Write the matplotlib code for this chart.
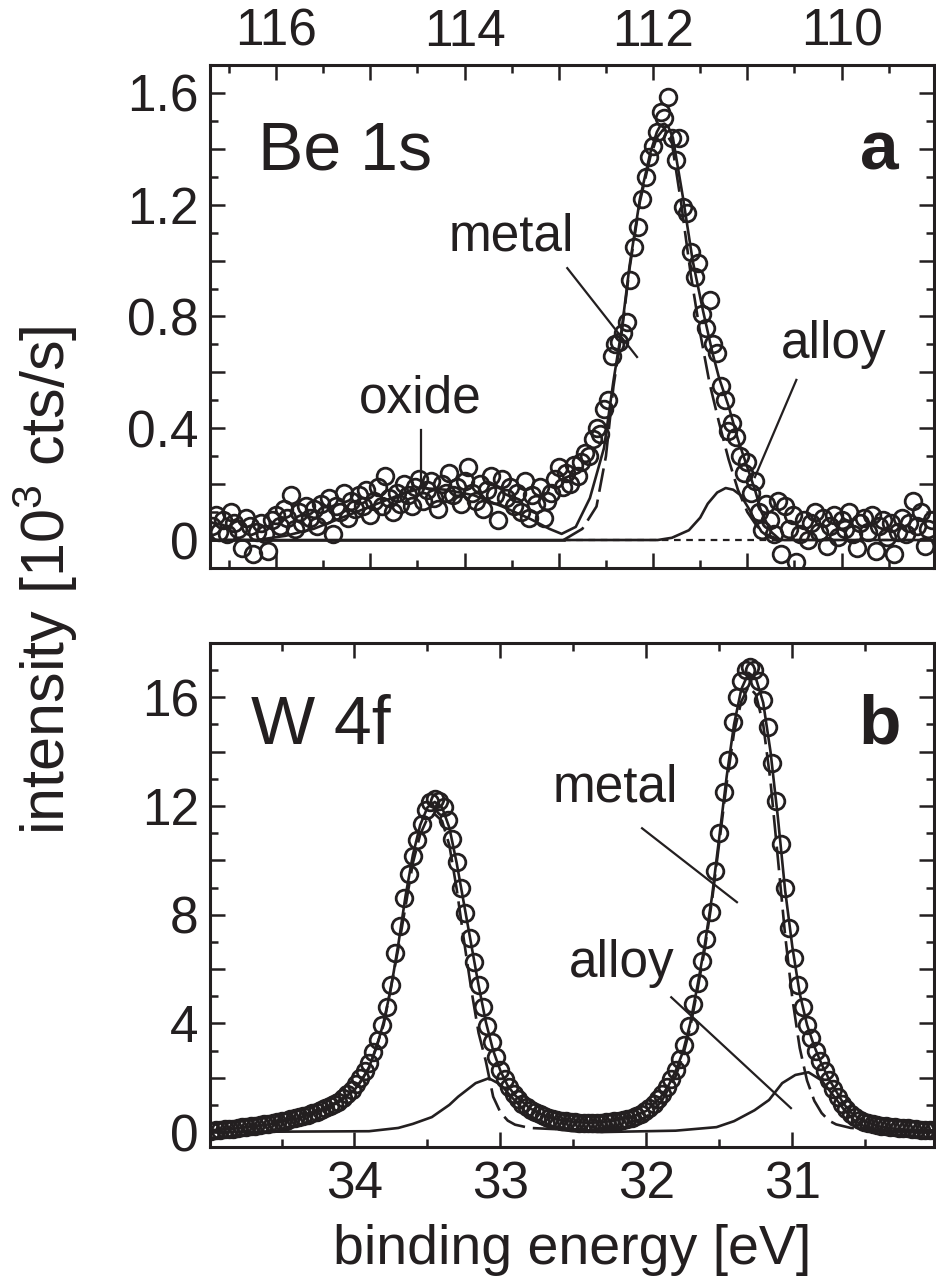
import numpy as np
import matplotlib
matplotlib.use("Agg")
import matplotlib.pyplot as plt
from matplotlib.ticker import MultipleLocator, FuncFormatter

plt.rcParams['font.family'] = ['Liberation Sans', 'DejaVu Sans']
plt.rcParams['mathtext.fontset'] = 'custom'
plt.rcParams['mathtext.rm'] = 'Liberation Sans'
plt.rcParams['mathtext.it'] = 'Liberation Sans'
plt.rcParams['mathtext.default'] = 'regular'

INK = '#231f20'

# ---------------- Panel a: Be 1s (measured points, 0.04 eV grid) ----------------
be_start, be_step = 116.68, 0.04
be_y = [0.05, 0.09, 0.03, 0.07, 0.02, 0.10, 0.06, 0.04, -0.03, 0.08, 0.05, -0.05, 0.03,
        0.06, 0.02, -0.04, 0.07, 0.09, 0.05, 0.11, 0.08, 0.16, 0.04, 0.10, 0.06, 0.12,
        0.08, 0.11, 0.05, 0.13, 0.09, 0.15, 0.02, 0.12, 0.10, 0.17, 0.08, 0.14, 0.11,
        0.16, 0.12, 0.18, 0.09, 0.14, 0.19, 0.12, 0.23, 0.15, 0.10, 0.17, 0.13, 0.20,
        0.16, 0.12, 0.19, 0.22, 0.14, 0.18, 0.21, 0.15, 0.11, 0.20, 0.17, 0.24, 0.16,
        0.19, 0.13, 0.21, 0.26, 0.17, 0.14, 0.20, 0.11, 0.18, 0.23, 0.16, 0.07, 0.22,
        0.15, 0.19, 0.12, 0.17, 0.10, 0.21, 0.08, 0.16, 0.13, 0.19, 0.08, 0.14, 0.17,
        0.22, 0.26, 0.19, 0.24, 0.20, 0.27,
        0.23, 0.28, 0.31, 0.30, 0.36, 0.40, 0.38,
        0.47, 0.50, 0.66, 0.70, 0.71, 0.74, 0.78,
        0.93, 1.05, 1.12, 1.22, 1.30, 1.37, 1.41, 1.46, 1.53, 1.51,
        1.585, 1.44, 1.36, 1.44, 1.19, 1.17, 1.03, 0.94, 0.99, 0.81,
        0.76, 0.86, 0.70, 0.67, 0.55, 0.50, 0.39, 0.42, 0.37, 0.30,
        0.24, 0.28, 0.17, 0.21, 0.10, 0.035, 0.13, 0.07, 0.02, 0.14,
        -0.05, 0.12, 0.04, 0.09, -0.08, 0.02, 0.07, 0.00, 0.06, 0.10, 0.03, 0.08, -0.02,
        0.05, 0.09, 0.01, 0.07, 0.04, 0.10, 0.02, -0.03, 0.06, 0.08, 0.03, 0.09, -0.04,
        0.05, 0.07, 0.01, 0.06, -0.05, 0.03, 0.08, 0.02, 0.06, 0.14, 0.05, 0.10, -0.02,
        0.04, 0.07]
be_x = be_start - be_step * np.arange(len(be_y))

# fit curves, panel a
be_fit_x = [116.70, 116.20, 115.90, 115.60, 115.30, 115.00, 114.70, 114.46, 114.20, 113.90,
            113.60, 113.30, 113.10, 112.97, 112.82, 112.67, 112.52, 112.42, 112.33, 112.25,
            112.14, 112.03, 111.96, 111.92, 111.88, 111.84, 111.79, 111.68, 111.58, 111.47,
            111.37, 111.30, 111.20, 111.10, 111.00, 110.92, 110.85, 110.75, 110.65, 109.00]
be_total = [0.0, 0.0, 0.015, 0.04, 0.08, 0.12, 0.16, 0.186, 0.18, 0.16,
            0.12, 0.075, 0.04, 0.022, 0.047, 0.15, 0.33, 0.57, 0.76, 0.98,
            1.22, 1.385, 1.46, 1.485, 1.49, 1.48, 1.44, 1.22, 1.00, 0.82,
            0.67, 0.58, 0.48, 0.36, 0.26, 0.18, 0.10, 0.03, 0.0, 0.0]

be_metal_x = [112.95, 112.90, 112.75, 112.60, 112.50, 112.42, 112.33, 112.25, 112.14,
              112.03, 111.96, 111.89, 111.80, 111.70, 111.60, 111.50, 111.40, 111.30, 111.20,
              111.10, 111.00, 110.90, 110.80, 110.65]
be_metal = [0.0, 0.01, 0.04, 0.12, 0.30, 0.55, 0.75, 0.97, 1.21,
            1.37, 1.44, 1.47, 1.42, 1.20, 0.95, 0.74, 0.56, 0.42, 0.29,
            0.18, 0.10, 0.05, 0.02, 0.0]

be_alloy_x = [116.70, 111.95, 111.80, 111.62, 111.50, 111.42, 111.32, 111.23, 111.15, 111.07,
              110.98, 110.92, 110.85, 110.77, 110.65]
be_alloy = [0.0, 0.0, 0.008, 0.035, 0.08, 0.13, 0.17, 0.186, 0.18, 0.16,
            0.11, 0.07, 0.03, 0.01, 0.0]

be_base_solid_x = [116.70, 112.95]
be_bg_x = [112.95, 109.00]
be_bg = [0.0, 0.0]

# ---------------- Panel b: W 4f (measured points, 0.03 eV grid) ----------------
w_start, w_step = 34.98, 0.03
w_y = [0.05, 0.08, 0.06, 0.10, 0.12, 0.10, 0.15, 0.17, 0.20, 0.22,
       0.21, 0.26, 0.28, 0.30, 0.33, 0.36, 0.40, 0.42, 0.47, 0.50,
       0.55, 0.60, 0.64, 0.70, 0.75, 0.82, 0.88, 0.95, 1.02, 1.12,
       1.25, 1.40, 1.55, 1.75, 1.98, 2.25, 2.55, 2.95, 3.40, 3.95,
       4.60, 5.40, 6.60, 7.60, 8.60, 9.50, 10.15, 10.75, 11.35, 11.85,
       12.15, 12.25, 12.20, 11.95, 11.50, 10.80, 9.95, 9.00, 8.05, 7.15,
       6.25, 5.40, 4.60, 3.90, 3.30, 2.75, 2.30, 1.95, 1.65, 1.40,
       1.20, 1.05, 0.92, 0.82, 0.72, 0.65, 0.58, 0.52, 0.48, 0.45,
       0.42, 0.40, 0.38, 0.36, 0.35, 0.34, 0.34, 0.34, 0.35, 0.35,
       0.36, 0.37, 0.39, 0.42, 0.45, 0.48, 0.52, 0.58, 0.68, 0.78,
       0.90, 1.03, 1.20, 1.40, 1.65, 1.95, 2.30, 2.70, 3.20, 3.90,
       4.70, 5.50, 6.30, 7.10, 8.10, 9.60, 11.00, 12.50, 13.70, 15.10,
       16.00, 16.60, 17.00, 17.10, 17.00, 16.60, 15.90, 14.90, 13.60, 12.20,
       10.60, 9.00, 7.50, 6.40, 5.40, 4.60, 3.95, 3.45, 3.00, 2.60,
       2.25, 1.90, 1.60, 1.30, 1.05, 0.85, 0.68, 0.55, 0.45, 0.38,
       0.33, 0.29, 0.26, 0.23, 0.21, 0.19, 0.17, 0.15, 0.14, 0.13,
       0.12, 0.10, 0.09, 0.08, 0.07, 0.06]
w_x = w_start - w_step * np.arange(len(w_y))

w_fit_x = [35.00, 34.80, 34.60, 34.40, 34.20, 34.10, 34.00,
           33.95, 33.90, 33.85, 33.80, 33.75, 33.70, 33.65, 33.60, 33.55, 33.50,
           33.45, 33.40, 33.35, 33.30, 33.25, 33.20, 33.15, 33.10, 33.05, 33.00,
           32.95, 32.90,
           32.80, 32.70, 32.60, 32.50, 32.40, 32.30, 32.20, 32.10, 32.00,
           31.90,
           31.85, 31.80, 31.75, 31.70, 31.65, 31.60, 31.55, 31.50, 31.45, 31.40,
           31.35, 31.30, 31.25, 31.20, 31.15, 31.10, 31.05, 31.00, 30.95, 30.90,
           30.85, 30.80, 30.75, 30.70, 30.65, 30.60, 30.55, 30.50,
           30.40, 30.30, 30.20, 30.00]
w_total = [0.05, 0.14, 0.27, 0.48, 0.85, 1.12, 1.55,
           1.90, 2.40, 3.10, 4.05, 5.30, 6.90, 8.70, 10.20, 11.30, 11.95,
           12.15, 11.95, 11.20, 9.90, 8.40, 6.90, 5.40, 4.05, 3.00, 2.25,
           1.70, 1.35,
           0.88, 0.60, 0.45, 0.37, 0.34, 0.36, 0.44, 0.55, 0.78,
           1.30,
           1.70, 2.25, 2.95, 4.00, 5.40, 6.90, 8.70, 10.90, 13.10, 15.00,
           16.30, 16.90, 16.70, 15.80, 14.00, 11.60, 8.90, 6.80, 5.10, 3.95,
           3.15, 2.50, 1.95, 1.50, 1.05, 0.72, 0.52, 0.38,
           0.20, 0.12, 0.08, 0.05]

w_metal_x = [35.00, 34.60, 34.20, 34.00, 33.90, 33.80, 33.70, 33.60,
             33.55, 33.50, 33.45, 33.40, 33.35, 33.30, 33.25, 33.20, 33.15, 33.10,
             33.05, 33.00, 32.95, 32.90,
             32.80, 32.60, 32.40, 32.20, 32.00, 31.90, 31.80,
             31.75, 31.70, 31.65, 31.60, 31.55, 31.50, 31.45, 31.40, 31.35, 31.30,
             31.25, 31.20, 31.15, 31.10, 31.05, 31.00, 30.95, 30.90, 30.85, 30.80,
             30.75, 30.70,
             30.60, 30.40, 30.00]
w_metal = [0.05, 0.27, 0.85, 1.53, 2.35, 3.95, 6.75, 9.90,
           10.95, 11.55, 11.70, 11.45, 10.55, 8.95, 7.05, 5.25, 3.65, 2.60,
           1.30, 0.72, 0.42, 0.27,
           0.15, 0.10, 0.10, 0.20, 0.55, 1.10, 2.05,
           2.80, 3.85, 5.25, 6.75, 8.55, 10.70, 12.85, 14.70, 15.85, 16.40,
           16.10, 15.00, 12.90, 10.10, 7.25, 4.90, 3.10, 1.90, 1.15, 0.70,
           0.42, 0.28,
           0.15, 0.08, 0.05]

w_alloy_x = [35.00, 33.90, 33.70, 33.60, 33.47, 33.35, 33.29, 33.17, 33.08, 33.00,
             32.90, 32.80, 32.70, 32.60, 32.50, 32.30,
             31.80, 31.52, 31.40, 31.26, 31.16, 31.07, 30.98, 30.89, 30.80, 30.72,
             30.65, 30.58, 30.50, 30.40, 30.30, 30.00]
w_alloy = [0.0, 0.03, 0.15, 0.30, 0.55, 1.00, 1.30, 1.80, 1.98, 1.75,
           1.15, 0.58, 0.24, 0.09, 0.03, 0.0,
           0.05, 0.18, 0.40, 0.80, 1.18, 1.80, 2.10, 2.20, 1.90, 1.35,
           0.85, 0.45, 0.18, 0.05, 0.01, 0.0]

# ---------------- Figure ----------------
fig = plt.figure(figsize=(9.37, 12.87), dpi=100)
ax1 = fig.add_axes([0.2241, 0.5587, 0.7727, 0.3908])
ax2 = fig.add_axes([0.2241, 0.1088, 0.7727, 0.3916])

FS = 37
FL = 40
LW = 1.9
mk = dict(marker='o', ls='none', ms=12, mfc='none', mec=INK, mew=2.0)

# panel a
ax1.plot(be_base_solid_x, [0.0, 0.0], color=INK, lw=LW)
ax1.plot(be_bg_x, be_bg, color=INK, lw=1.6, dashes=(3, 2.5))
ax1.plot(be_metal_x, be_metal, color=INK, lw=LW, dashes=(9, 3))
ax1.plot(be_alloy_x, be_alloy, color=INK, lw=LW)
ax1.plot(be_fit_x, be_total, color=INK, lw=LW)
ax1.plot(be_x, be_y, **mk)
ax1.set_xlim(116.70, 109.02)
ax1.set_ylim(-0.10, 1.70)

# panel b
ax2.plot(w_alloy_x, w_alloy, color=INK, lw=LW)
ax2.plot(w_metal_x, w_metal, color=INK, lw=LW, dashes=(9, 3))
ax2.plot(w_fit_x, w_total, color=INK, lw=LW)
ax2.plot(w_x, w_y, **mk)
ax2.set_xlim(34.99, 30.03)
ax2.set_ylim(-0.55, 18.0)

for ax in (ax1, ax2):
    for s in ax.spines.values():
        s.set_linewidth(2.2)
        s.set_color(INK)
    ax.tick_params(which='both', direction='in', top=True, right=True,
                   width=1.8, color=INK, labelsize=FS, labelcolor=INK)
    ax.tick_params(which='major', length=11)
    ax.tick_params(which='minor', length=6)

# ticks panel a
ax1.xaxis.set_major_locator(MultipleLocator(1))
ax1.xaxis.set_minor_locator(MultipleLocator(0.5))
ax1.xaxis.set_major_formatter(FuncFormatter(lambda v, p: f"{v:.0f}" if round(v) % 2 == 0 else ""))
ax1.tick_params(axis='x', labeltop=True, labelbottom=False, pad=6)
ax1.yaxis.set_major_locator(MultipleLocator(0.2))
ax1.yaxis.set_minor_locator(MultipleLocator(0.1))
def fa(v, p):
    k = round(v / 0.2)
    if k % 2:
        return ""
    return "0" if k == 0 else f"{v:.1f}"
ax1.yaxis.set_major_formatter(FuncFormatter(fa))
ax1.tick_params(axis='y', pad=8)

# ticks panel b
ax2.xaxis.set_major_locator(MultipleLocator(1))
ax2.xaxis.set_minor_locator(MultipleLocator(0.5))
ax2.xaxis.set_major_formatter(FuncFormatter(lambda v, p: f"{v:.0f}"))
ax2.tick_params(axis='x', pad=10)
ax2.yaxis.set_major_locator(MultipleLocator(2))
ax2.yaxis.set_minor_locator(MultipleLocator(1))
ax2.yaxis.set_major_formatter(FuncFormatter(lambda v, p: f"{v:.0f}" if round(v) % 4 == 0 else ""))
ax2.tick_params(axis='y', pad=8)

# annotations panel a
ax1.text(116.19, 1.39, "Be 1s", fontsize=49, color=INK, ha='left', va='center')
ax1.text(109.60, 1.39, "a", fontsize=50, fontweight='bold', color=INK, ha='center', va='center')
ax1.text(114.47, 0.505, "oxide", fontsize=FS, color=INK, ha='center', va='center')
ax1.plot([114.46, 114.46], [0.394, 0.186], color=INK, lw=1.6)
ax1.text(113.50, 1.085, "metal", fontsize=FS, color=INK, ha='center', va='center')
ax1.plot([112.91, 112.17], [0.973, 0.655], color=INK, lw=1.6)
ax1.text(110.08, 0.70, "alloy", fontsize=FS, color=INK, ha='center', va='center')
ax1.plot([110.48, 110.92], [0.573, 0.225], color=INK, lw=1.6)

# annotations panel b
ax2.text(34.71, 14.96, "W 4f", fontsize=49, color=INK, ha='left', va='center')
ax2.text(30.40, 14.96, "b", fontsize=50, fontweight='bold', color=INK, ha='center', va='center')
ax2.text(32.21, 12.68, "metal", fontsize=FS, color=INK, ha='center', va='center')
ax2.plot([32.03, 31.38], [11.18, 8.46], color=INK, lw=1.6)
ax2.text(32.17, 6.2, "alloy", fontsize=FS, color=INK, ha='center', va='center')
ax2.plot([31.83, 31.01], [4.96, 0.88], color=INK, lw=1.6)

fig.text(572 / 937, 1 - 1250 / 1287, "binding energy [eV]", fontsize=FL, color=INK,
         ha='center', va='center')
fig.text(45 / 937, 1 - 580 / 1287, r"intensity [10$^{3}$ cts/s]", fontsize=44, color=INK,
         ha='center', va='center', rotation=90)

fig.savefig("out.png", dpi=100)
